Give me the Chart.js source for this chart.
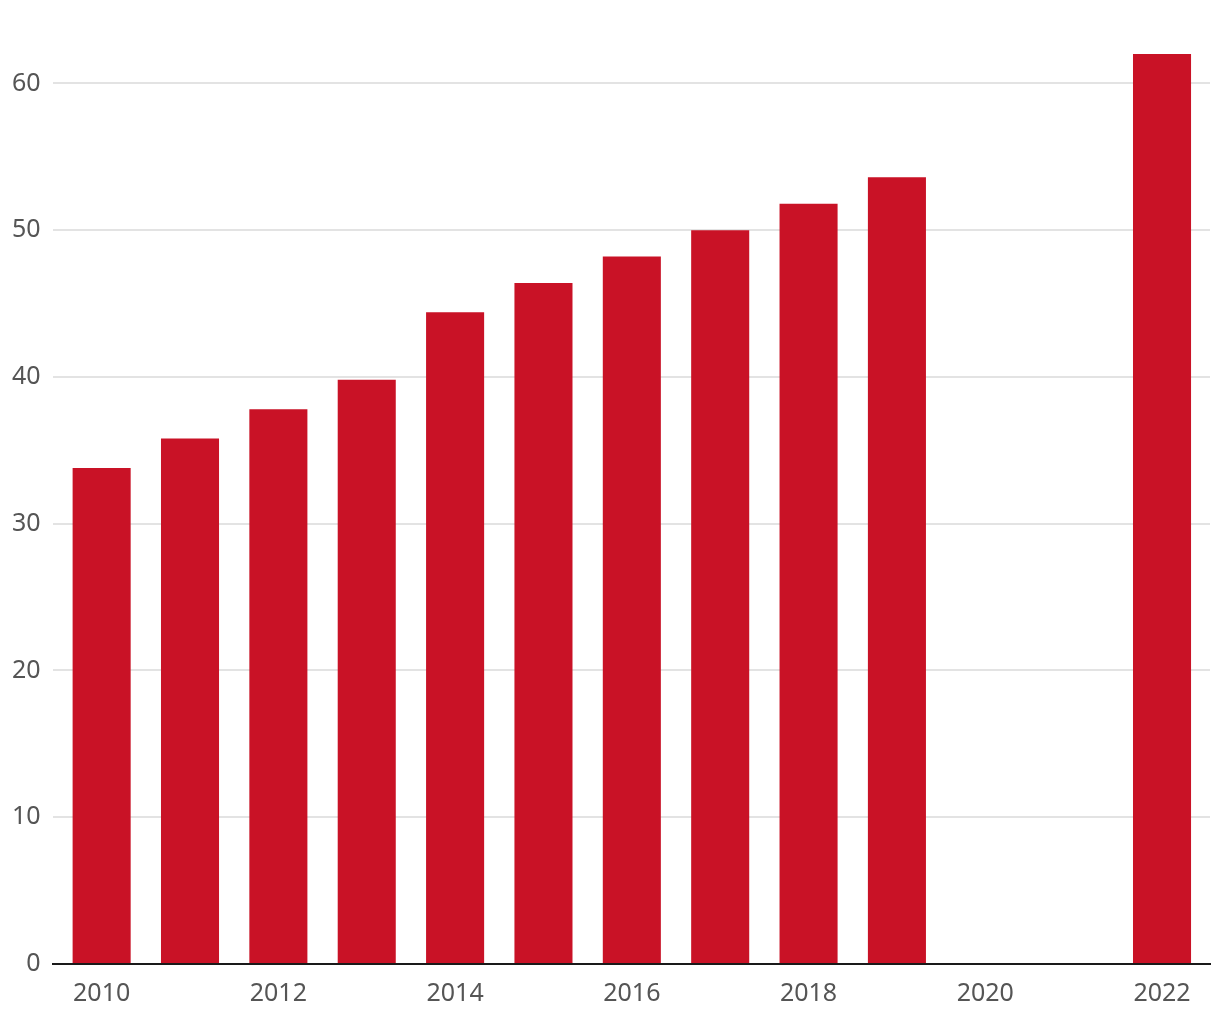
<!DOCTYPE html>
<html>
<head>
<meta charset="utf-8">
<script src="https://cdn.jsdelivr.net/npm/chart.js@4"></script>
<style>
  html, body { margin: 0; padding: 0; background: #fff; }
  #wrap { width: 1220px; height: 1020px; }
</style>
</head>
<body>
<div id="wrap"><canvas id="chart"></canvas></div>
<script>
// years with a value (2020 and 2021 have no bar)
const years = [2010, 2011, 2012, 2013, 2014, 2015, 2016, 2017, 2018, 2019, 2022];
const values = [33.8, 35.8, 37.8, 39.8, 44.4, 46.4, 48.2, 50.0, 51.8, 53.6, 62.0];
const yTicks = [0, 10, 20, 30, 40, 50, 60];
const xTicks = [2010, 2012, 2014, 2016, 2018, 2020, 2022];

const points = years.map(function (y, i) {
    return { x: y, y: values[i] };
});

const tickFont = { family: "'Noto Sans', sans-serif", size: 25 };

new Chart(document.getElementById("chart"), {
    type: "bar",
    data: {
        datasets: [
            {
                data: points,
                backgroundColor: "#c91226",
                borderWidth: 0,
                barPercentage: 0.657,
                categoryPercentage: 1,
            },
        ],
    },
    options: {
        responsive: true,
        maintainAspectRatio: false,
        animation: false,
        layout: { padding: { top: 10, right: 10, left: 0, bottom: 0 } },
        plugins: { legend: { display: false }, tooltip: { enabled: false } },
        scales: {
            x: {
                type: "linear",
                min: 2009.445,
                max: 2022.543,
                offset: false,
                grid: { display: false, drawTicks: false },
                border: { display: true, color: "#1a1a1a", width: 2 },
                afterBuildTicks: function (axis) {
                    axis.ticks = xTicks.map(function (v) { return { value: v }; });
                },
                afterFit: function (axis) {
                    axis.height = 56;
                },
                ticks: {
                    color: "#555",
                    font: tickFont,
                    padding: 15,
                    maxRotation: 0,
                    autoSkip: false,
                    callback: function (v) { return String(v); },
                },
            },
            y: {
                min: 0,
                max: 65,
                grid: { color: "#e3e3e3", lineWidth: 2, drawTicks: false },
                border: { display: false },
                afterBuildTicks: function (axis) {
                    axis.ticks = yTicks.map(function (v) { return { value: v }; });
                },
                afterFit: function (axis) {
                    axis.paddingTop = 0;
                    axis.paddingBottom = 0;
                },
                ticks: {
                    color: "#555",
                    font: tickFont,
                    padding: 12,
                },
            },
        },
    },
});
</script>
</body>
</html>
